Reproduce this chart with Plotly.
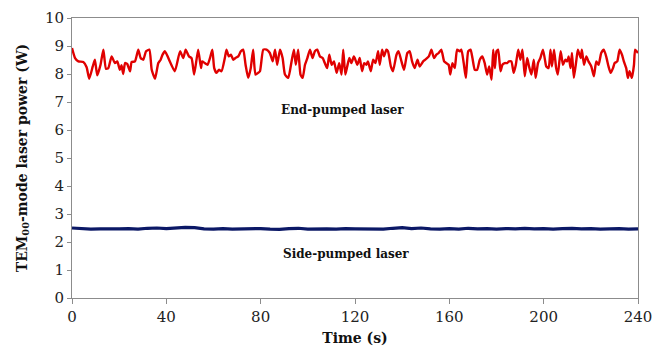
import plotly.graph_objects as go

# End-pumped laser (red) - time (s) and power (W)
end_t = [0, 1.3, 2.7, 4.8, 6.2, 7.3, 8.8, 9.7, 10.7, 12.1, 13.3, 14.4, 15.4, 16.8, 18.2, 19.2, 20.3, 21.0, 21.7, 22.5,
         23.4, 24.6, 25.3, 26.7, 28.1, 29.1, 30.2, 31.4, 32.8, 33.8, 35.2, 36.6, 37.6, 38.4,
         39.4, 43.6, 45.8, 47.2, 48.2, 49.6, 50.7, 51.8, 53.5, 54.7, 55.2, 56.3, 57.5, 58.5, 59.5, 60.3, 61.3,
         62.3, 63.4, 64.8, 65.5, 66.5, 67.4, 68.4, 69.3, 70.5, 71.6, 72.6, 73.6, 74.7, 75.8, 76.8, 77.8, 78.9,
         79.7, 81.1, 82.5, 83.9, 85.1, 86.1, 87.0, 88.2, 89.3, 90.3, 91.7, 93.1, 94.1, 94.9, 95.9, 96.9, 97.8,
         98.8, 99.8, 100.9, 102.0, 103.0, 104.0, 105.1, 106.3, 107.2, 108.2, 109.1, 110.1, 111.1, 112.2, 113.3,
         114.3, 115.0, 115.9, 116.7, 117.6, 118.5, 119.5,
         119.9, 121.0, 122.0, 123.0, 123.9, 124.8, 125.5, 126.7, 127.7, 128.7, 129.8, 130.5, 131.5, 132.3, 133.3,
         134.0, 135.2, 136.1, 137.6, 138.5, 139.7, 140.8, 142.2, 143.2, 144.2, 145.3, 146.5, 147.4, 148.9, 149.8,
         151.3, 152.4, 153.5, 154.5, 155.5, 156.6, 157.8, 158.7, 159.7, 160.4,
         161.3, 162.3, 163.3, 164.4, 165.1, 166.1, 167.0, 168.0, 169.0, 169.8, 170.8, 171.8, 172.9, 174.0, 175.0,
         176.0, 176.9, 177.9, 178.6, 179.3, 180.0, 180.7, 181.7, 182.5, 183.5, 184.5, 185.3, 186.3, 187.3, 188.2,
         189.2, 190.1, 191.0, 192.0, 193.0, 193.8, 194.8, 195.8, 196.6, 197.6, 198.6, 199.7, 200.9,
         201.1, 202.1, 202.9, 203.5, 204.4, 205.3, 206.0, 207.2, 208.2, 209.2, 210.0, 210.6, 211.4, 212.0, 212.8,
         213.8, 214.5, 215.7, 216.2, 217.1, 218.1, 219.0, 220.2, 221.3, 222.3, 223.3, 224.4, 225.5, 226.5, 227.5,
         228.4, 229.4, 230.1, 231.2, 232.2, 233.2, 234.0, 235.0, 235.7, 236.4, 237.4, 238.3, 238.8, 240.0]
end_p = [8.93, 8.57, 8.45, 8.43, 8.24, 7.83, 8.27, 8.51, 7.95, 8.33, 8.87, 8.19, 8.21, 8.63, 8.39, 8.45, 8.15, 8.31, 8.00, 8.39,
         8.36, 8.10, 8.43, 8.45, 8.87, 8.57, 8.51, 8.81, 8.87, 8.15, 7.83, 8.39, 8.51, 8.69,
         8.81, 8.10, 8.81, 8.57, 8.87, 8.63, 8.57, 7.98, 8.87, 8.21, 8.45, 8.39, 8.33, 8.57, 8.87, 8.21, 8.04,
         8.15, 8.10, 8.57, 8.87, 8.63, 8.69, 8.51, 8.57, 8.63, 8.81, 8.87, 8.33, 7.86, 8.21, 8.87, 7.98, 8.04,
         8.10, 8.87, 8.87, 8.75, 8.45, 8.87, 8.33, 8.87, 8.57, 7.98, 7.86, 8.45, 8.87, 8.33, 8.87, 7.98, 7.86,
         8.33, 8.57, 8.87, 8.57, 8.81, 8.87, 8.63, 8.57, 8.39, 8.21, 8.69, 8.33, 8.45, 8.04, 8.39,
         7.98, 8.87, 7.98, 8.27, 8.57, 8.39, 8.63,
         8.57, 8.33, 8.57, 8.10, 8.39, 8.33, 8.45, 8.10, 8.51, 8.39, 8.81, 8.33, 8.87, 8.63, 8.87,
         8.81, 8.27, 8.10, 8.69, 8.81, 8.45, 8.15, 8.75, 8.81, 8.45, 8.21, 8.51, 8.27, 8.45, 8.51,
         8.63, 8.87, 8.57, 8.69, 8.75, 8.87, 8.45, 8.39, 8.33, 7.98,
         8.39, 8.21, 8.87, 8.81, 8.87, 8.39, 7.86, 8.81, 8.87, 8.57, 8.15, 8.15, 8.51, 8.63, 8.39,
         7.98, 8.27, 7.80, 8.87, 8.21, 8.81, 8.87, 8.10, 8.33, 8.39, 8.39, 8.45, 8.45, 8.04, 8.33,
         8.87, 8.51, 8.87, 7.92, 8.57, 8.27, 7.98, 8.51, 7.86, 8.39, 8.57, 8.87, 8.33,
         8.27, 8.21, 8.87, 8.27, 8.87, 8.21, 7.98, 8.81, 8.33, 8.51, 8.45, 8.63, 8.21, 8.75, 7.86,
         8.45, 8.87, 8.57, 8.87, 8.33, 8.63, 8.45, 8.27, 7.92, 8.45, 8.33, 8.75, 8.87, 8.63, 8.27,
         8.04, 8.21, 8.39, 8.45, 8.87, 8.69, 8.45, 8.21, 7.86, 8.10, 7.86, 8.33, 8.87, 8.75]

# Side-pumped laser (navy)
side_t = [0, 4, 8, 12, 16, 20, 24, 28, 32, 36, 40, 44, 48, 52, 56, 60, 64, 68, 72, 76, 80, 84, 88, 92, 96, 100,
          104, 108, 112, 116, 120, 124, 128, 132, 136, 140, 144, 148, 152, 156, 160, 164, 168, 172, 176, 180,
          184, 188, 192, 196, 200, 204, 208, 212, 216, 220, 224, 228, 232, 236, 240]
side_p = [2.50, 2.48, 2.46, 2.47, 2.46, 2.47, 2.48, 2.46, 2.49, 2.50, 2.48, 2.51, 2.52, 2.51, 2.47, 2.46, 2.48,
          2.46, 2.47, 2.46, 2.48, 2.46, 2.45, 2.48, 2.49, 2.46, 2.47, 2.47, 2.46, 2.48, 2.47, 2.46, 2.47, 2.46,
          2.49, 2.51, 2.48, 2.50, 2.47, 2.46, 2.48, 2.46, 2.49, 2.47, 2.48, 2.46, 2.48, 2.47, 2.49, 2.47, 2.48,
          2.46, 2.48, 2.49, 2.47, 2.48, 2.46, 2.47, 2.48, 2.46, 2.47]

x_ticks = [0, 40, 80, 120, 160, 200, 240]
y_ticks = [0, 1, 2, 3, 4, 5, 6, 7, 8, 9, 10]

FONT = "DejaVu Serif"

fig = go.Figure()
fig.add_trace(go.Scatter(x=end_t, y=end_p, mode="lines",
                         line=dict(color="#e00000", width=2.4, shape="spline", smoothing=0.5),
                         name="End-pumped laser"))
fig.add_trace(go.Scatter(x=side_t, y=side_p, mode="lines",
                         line=dict(color="#0b1866", width=3.2), name="Side-pumped laser"))

fig.add_annotation(x=114.5, y=6.7, text="<b>End-pumped laser</b>", showarrow=False,
                   font=dict(family=FONT, size=12, color="#111"))
fig.add_annotation(x=116, y=1.57, text="<b>Side-pumped laser</b>", showarrow=False,
                   font=dict(family=FONT, size=12, color="#111"))

fig.update_layout(
    width=662, height=347,
    margin=dict(l=72, r=24, t=18, b=49, autoexpand=False),
    paper_bgcolor="white", plot_bgcolor="white",
    showlegend=False,
    font=dict(family=FONT, size=15, color="#222"),
)
fig.update_xaxes(range=[0, 240], tickvals=x_ticks, showgrid=False, zeroline=False,
                 showline=True, linecolor="#8c8c8c", linewidth=1, mirror=True,
                 ticks="outside", ticklen=5, tickcolor="#8c8c8c", automargin=False,
                 tickfont=dict(family=FONT, size=15, color="#222"),
                 title=dict(text="<b>Time (s)</b>", font=dict(family=FONT, size=14, color="#111"),
                            standoff=8))
fig.update_yaxes(range=[0, 10], tickvals=y_ticks, showgrid=False, zeroline=False,
                 showline=True, linecolor="#8c8c8c", linewidth=1, mirror=True,
                 ticks="outside", ticklen=4, tickcolor="#8c8c8c", automargin=False,
                 tickfont=dict(family=FONT, size=15, color="#222"),
                 title=dict(text="<b>TEM<sub>00</sub>-mode laser power (W)</b>",
                            font=dict(family=FONT, size=14, color="#111"), standoff=14))

fig.write_html("out.html", config={"displayModeBar": False},
               post_script="document.body.style.margin='0';document.body.style.overflow='hidden';")
